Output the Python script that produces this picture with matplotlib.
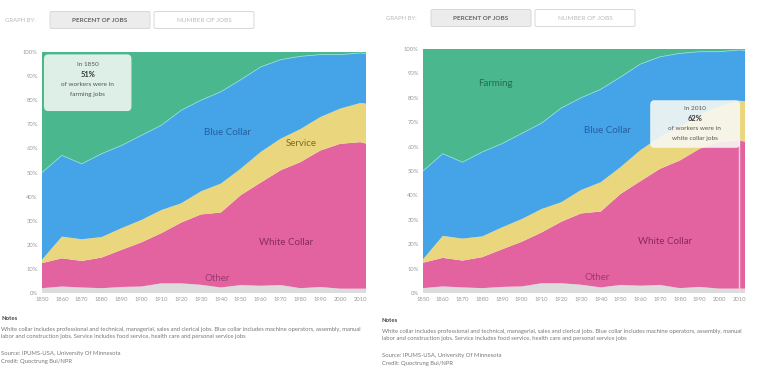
import matplotlib
matplotlib.use('Agg')
import matplotlib.pyplot as plt
from matplotlib.patches import FancyBboxPatch
import numpy as np

plt.rcParams['font.family'] = ['Lato', 'DejaVu Sans']

# Share of jobs (percent) by decade
years = [1850, 1860, 1870, 1880, 1890, 1900, 1910, 1920, 1930, 1940, 1950,
         1960, 1970, 1980, 1990, 2000, 2010, 2013]
other = [2.0, 2.7, 2.3, 2.0, 2.5, 2.7, 4.0, 4.0, 3.4, 2.3, 3.3, 3.0, 3.3,
         2.0, 2.5, 1.8, 1.8, 1.8]
white_collar = [10.4, 11.7, 11.0, 12.7, 15.4, 18.3, 20.8, 25.2, 29.2, 31.1,
                37.3, 42.8, 47.6, 52.3, 56.6, 60.1, 60.8, 60.2]
service = [1.4, 9.0, 9.0, 8.5, 9.0, 9.3, 9.6, 8.0, 9.6, 12.0, 11.0, 12.7,
           13.1, 13.7, 13.9, 14.6, 16.2, 16.6]
blue_collar = [36.2, 33.7, 31.3, 34.6, 34.3, 35.1, 35.2, 38.6, 37.8, 38.1,
               36.9, 35.3, 32.8, 30.2, 25.9, 22.4, 20.8, 20.8]
farming = [100 - sum(v) for v in zip(other, white_collar, service, blue_collar)]

series = [other, white_collar, service, blue_collar, farming]
colors = ['#dcdcdc', '#e2639f', '#ead67c', '#45a3e8', '#4ab78e']
xticks = list(range(1850, 2011, 10))
yticks = list(range(0, 101, 10))

note1 = ('White collar includes professional and technical, managerial, sales and clerical jobs. '
         'Blue collar includes machine operators, assembly, manual')
note2 = 'labor and construction jobs. Service includes food service, health care and personal service jobs'

W, H = 757, 387
fig = plt.figure(figsize=(W / 100, H / 100), dpi=100)
fig.patch.set_facecolor('white')


def px_axes(x0, y0, x1, y1):
    return fig.add_axes([x0 / W, 1 - y1 / H, (x1 - x0) / W, (y1 - y0) / H])


def draw_panel(x0, x1, ytop, header_y, notes_y):
    ax = px_axes(x0, ytop, x1, 293)
    ax.stackplot(years, *series, colors=colors, linewidth=0)
    top_blue = np.cumsum(series[:4], axis=0)[-1]
    ax.plot(years, top_blue, color='#8fdcd6', lw=0.6)
    ax.set_xlim(1850, 2013.5)
    ax.set_ylim(0, 100)
    ax.set_xticks(xticks)
    ax.set_xticklabels([str(t) for t in xticks], fontsize=4.2, color='#999999')
    ax.set_yticks(yticks)
    ax.set_yticklabels([f'{t}%' for t in yticks], fontsize=4.2, color='#999999')
    ax.tick_params(length=0, pad=3)
    for s in ax.spines.values():
        s.set_visible(False)

    # header buttons
    fig.text((x0 - 37) / W, 1 - header_y / H, 'GRAPH BY:', fontsize=4.3,
             color='#bbbbbb', va='center')
    for i, (lab, fc, tc) in enumerate([('PERCENT OF JOBS', '#ececec', '#666666'),
                                        ('NUMBER OF JOBS', 'white', '#bbbbbb')]):
        bx = x0 + 8 + i * 104
        r = FancyBboxPatch(((bx) / W, 1 - (header_y + 8.5) / H), 100 / W, 17 / H,
                           boxstyle='round,pad=0,rounding_size=0.003',
                           transform=fig.transFigure, fc=fc, ec='#d8d8d8', lw=0.7)
        fig.patches.append(r)
        fig.text((bx + 50) / W, 1 - header_y / H, lab, fontsize=4.6, color=tc,
                 ha='center', va='center', weight='bold' if i == 0 else 'normal')

    # notes
    fx = (x0 - 42 + 1) / W
    fig.text(fx, 1 - notes_y / H, 'Notes', fontsize=4.3, color='#444444',
             weight='bold', va='center')
    fig.text(fx, 1 - (notes_y + 12) / H, note1, fontsize=4.28, color='#777777', va='center')
    fig.text(fx, 1 - (notes_y + 18.5) / H, note2, fontsize=4.28, color='#777777', va='center')
    fig.text(fx, 1 - (notes_y + 36) / H, 'Source: IPUMS-USA, University Of Minnesota',
             fontsize=4.28, color='#777777', va='center')
    fig.text(fx, 1 - (notes_y + 44) / H, 'Credit: Quoctrung Bui/NPR',
             fontsize=4.28, color='#777777', va='center')

    ax.text(1943.5, 66.4, 'Blue Collar', fontsize=7, color='#24609c', ha='center', va='center')
    ax.text(1972.6, 21, 'White Collar', fontsize=7, color='#8a2a5c', ha='center', va='center')
    ax.text(1938, 6.2, 'Other', fontsize=7, color='#9e3a70', ha='center', va='center')
    return ax


# left panel: 1850 tooltip
axl = draw_panel(42, 367, 52, 20, 318)
axl.text(1980.6, 62, 'Service', fontsize=7, color='#7d6c22', ha='center', va='center')
tip = FancyBboxPatch((1851, 75.5), 44, 23.5, boxstyle='round,pad=0,rounding_size=2',
                     fc='#f2f7f4', ec='none', alpha=0.88, zorder=5)
axl.add_patch(tip)
axl.text(1873, 95, 'In 1850', fontsize=4.6, color='#555555', ha='center', va='center', zorder=6)
axl.text(1873, 90.8, '51%', fontsize=5.4, color='#333333', weight='bold', ha='center', va='center', zorder=6)
axl.text(1873, 86.6, 'of workers were in', fontsize=4.6, color='#555555', ha='center', va='center', zorder=6)
axl.text(1873, 82.4, 'farming jobs', fontsize=4.6, color='#555555', ha='center', va='center', zorder=6)

# right panel: 2010 tooltip
axr = draw_panel(423, 746, 49, 18, 320)
axr.text(1886.5, 86, 'Farming', fontsize=7, color='#236e50', ha='center', va='center')
axr.axvline(2010, ymin=0, ymax=0.64, color='#f6d4e4', lw=1.0, zorder=4)
tip = FancyBboxPatch((1965, 59.5), 45.5, 19.5, boxstyle='round,pad=0,rounding_size=2',
                     fc='#f7f8f4', ec='none', alpha=0.9, zorder=5)
axr.add_patch(tip)
axr.text(1987.5, 75.5, 'In 2010', fontsize=4.6, color='#555555', ha='center', va='center', zorder=6)
axr.text(1987.5, 71.5, '62%', fontsize=5.4, color='#333333', weight='bold', ha='center', va='center', zorder=6)
axr.text(1987.5, 67.4, 'of workers were in', fontsize=4.6, color='#555555', ha='center', va='center', zorder=6)
axr.text(1987.5, 63.4, 'white collar jobs', fontsize=4.6, color='#555555', ha='center', va='center', zorder=6)

plt.savefig('out.png', dpi=100)
plt.close('all')
